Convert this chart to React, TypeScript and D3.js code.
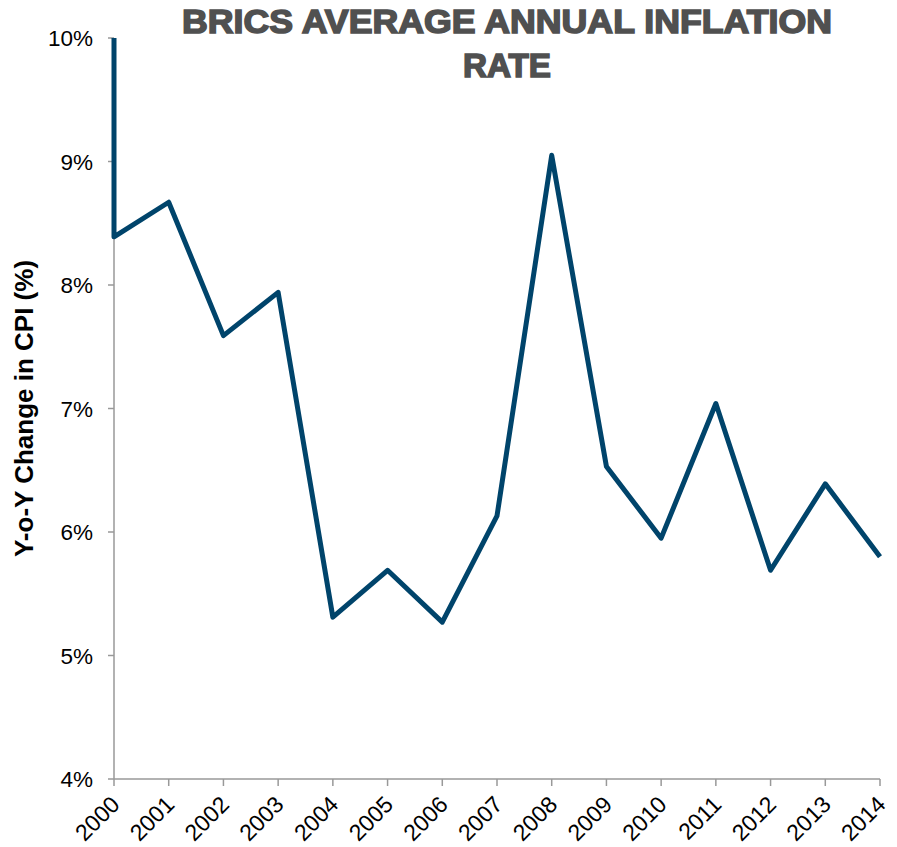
import React from "react";
import * as d3 from "d3";

const years = [2000, 2001, 2002, 2003, 2004, 2005, 2006, 2007, 2008, 2009, 2010, 2011, 2012, 2013, 2014];
const inflation = [8.39, 8.67, 7.59, 7.94, 5.31, 5.69, 5.27, 6.13, 9.05, 6.53, 5.95, 7.04, 5.69, 6.39, 5.8];
// first reading of 2000 lies above the axis range and is clipped
const openingValue = 11.5;
const yTicks = [4, 5, 6, 7, 8, 9, 10];
const titleLines = ["BRICS AVERAGE ANNUAL INFLATION", "RATE"];
const yLabel = "Y-o-Y Change in CPI (%)";

const W = 897;
const H = 847;
const M = { left: 114, right: 17, top: 38, bottom: 68 };

export default function App() {
  const x = d3.scaleLinear().domain([2000, 2014]).range([M.left, W - M.right]);
  const y = d3.scaleLinear().domain([4, 10]).range([H - M.bottom, M.top]);
  const pts: [number, number][] = [[2000, openingValue], ...years.map((yr, i) => [yr, inflation[i]] as [number, number])];
  const line = d3.line<[number, number]>().x((d) => x(d[0])).y((d) => y(d[1]));
  const axisColor = "#999999";
  const font = "'Liberation Sans', Arial, sans-serif";
  return (
    <svg width={W} height={H} style={{ position: "absolute", left: 0, top: 0 }}>
      <defs>
        <clipPath id="plot">
          <rect x={M.left - 10} y={M.top} width={W - M.left - M.right + 20} height={H - M.top - M.bottom + 10} />
        </clipPath>
      </defs>
      {titleLines.map((t, i) => (
        <text
          key={t}
          x={507}
          y={33 + i * 44}
          textAnchor="middle"
          fontFamily={font}
          fontWeight="bold"
          fontSize={34}
          fill="#505050"
          stroke="#505050"
          strokeWidth={1.6}
          textLength={i === 0 ? 650 : 88}
          lengthAdjust="spacingAndGlyphs"
        >
          {t}
        </text>
      ))}
      <text
        transform={`translate(33, ${(M.top + H - M.bottom) / 2}) rotate(-90)`}
        textAnchor="middle"
        fontFamily={font}
        fontWeight="bold"
        fontSize={26}
        fill="#000"
      >
        {yLabel}
      </text>
      <line x1={M.left} x2={M.left} y1={y(10)} y2={y(4)} stroke={axisColor} strokeWidth={1.5} />
      <line x1={M.left} x2={W - M.right} y1={y(4)} y2={y(4)} stroke={axisColor} strokeWidth={1.5} />
      {yTicks.map((t) => (
        <g key={t}>
          <line x1={M.left - 6} x2={M.left} y1={y(t)} y2={y(t)} stroke={axisColor} strokeWidth={1.5} />
          <text x={M.left - 21} y={y(t) + 8} textAnchor="end" fontFamily={font} fontSize={22.5} fill="#000">
            {t}%
          </text>
        </g>
      ))}
      {years.map((yr) => (
        <g key={yr}>
          <line x1={x(yr)} x2={x(yr)} y1={y(4)} y2={y(4) + 7} stroke={axisColor} strokeWidth={1.5} />
          <text
            transform={`translate(${x(yr) + 7}, ${y(4) + 27}) rotate(-45)`}
            textAnchor="end"
            fontFamily={font}
            fontSize={23}
            fill="#000"
          >
            {yr}
          </text>
        </g>
      ))}
      <path
        d={line(pts) ?? ""}
        fill="none"
        stroke="#00446B"
        strokeWidth={5}
        strokeLinejoin="round"
        clipPath="url(#plot)"
      />
    </svg>
  );
}
